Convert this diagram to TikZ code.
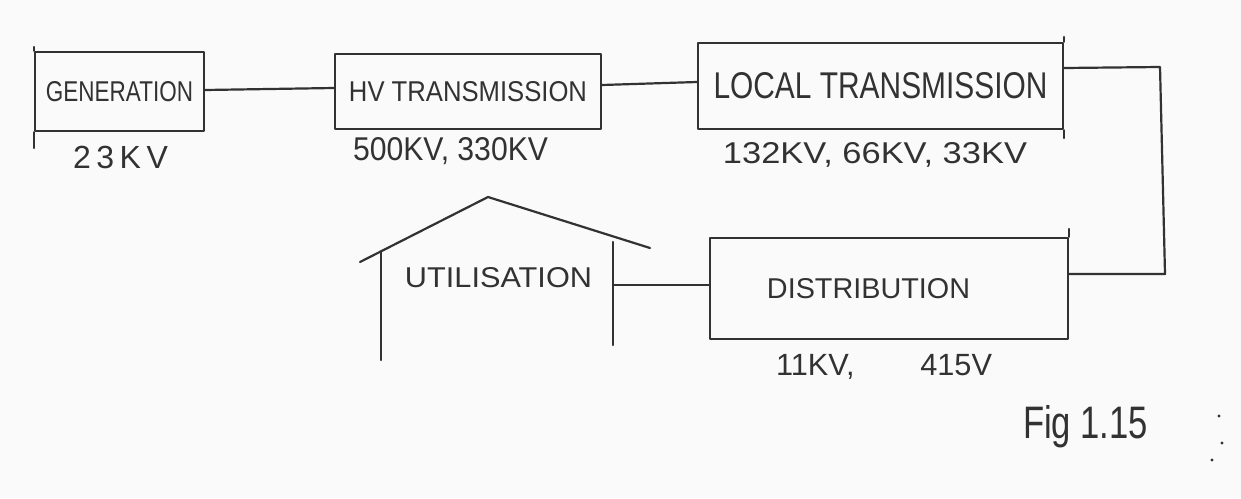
\documentclass[tikz,border=0pt]{standalone}
\usepackage{fontspec}
\setmainfont{Liberation Sans}
\usepackage{graphicx}
\definecolor{ink}{RGB}{50,50,50}
\definecolor{paper}{RGB}{250,250,250}
\newcommand{\fitto}[3]{\resizebox{#1pt}{#2pt}{#3}}
\tikzset{
  pen/.style={draw=ink, line width=2.2pt, line cap=round, line join=round},
  box/.style={pen, rectangle, inner sep=0pt, anchor=center, text=ink},
  lbl/.style={text=ink, inner sep=0pt, anchor=base},
}
\begin{document}
\begin{tikzpicture}[x=1pt,y=-1pt]
\fill[paper] (0,0) rectangle (1241,498);
\useasboundingbox (0,0) rectangle (1241,498);

% boxes
\node[box, minimum width=169pt, minimum height=79pt] (gen) at (119.5,91.5) {\fitto{147}{20}{GENERATION}};
\node[box, minimum width=266pt, minimum height=75pt] (hv) at (468,91.5) {\fitto{238}{20}{HV TRANSMISSION}};
\node[box, minimum width=365pt, minimum height=86pt] (loc) at (880.5,86) {\fitto{334}{26}{LOCAL TRANSMISSION}};
\node[box, minimum width=358pt, minimum height=101pt] (dist) at (889,288.5) {\fitto{203}{20}{DISTRIBUTION}\hspace*{41pt}};

% hand-drawn overshoots
\draw[pen] (gen.north west) -- ++(0,-4);
\draw[pen] (gen.south west) -- ++(0,16);
\draw[pen] (loc.north east) -- ++(0,-5);
\draw[pen] (loc.south east) -- ++(0,8);
\draw[pen] (dist.north east) -- ++(0,-8);

% voltage labels
\node[lbl] (v1) at (120.5,168) {\fontsize{32}{32}\selectfont\makebox[95pt][s]{2\hfill 3\hfill K\hfill V}};
\node[lbl] (v2) at (450.5,160) {\fitto{195}{23}{500KV, 330KV}};
\node[lbl] (v3) at (875,163) {\fitto{304}{21}{132KV, 66KV, 33KV}};
\node[lbl] (v4) at (884,375) {\fontsize{30.7}{31}\selectfont\makebox[216pt][s]{11KV,\hfill 415V}};

% connectors
\draw[pen] ([yshift=1.5pt]gen.east) -- ([yshift=3.5pt]hv.west);
\draw[pen] ([yshift=6.5pt]hv.east) -- ([yshift=4pt]loc.west);
\coordinate (c1) at (1160,67);
\coordinate (c2) at (1165,274);
\draw[pen] ([yshift=18pt]loc.east) -- (c1) -- (c2) -- (dist.east |- c2);

% utilisation house
\coordinate (r1) at (360,262);
\coordinate (r2) at (488,197);
\coordinate (r3) at (650,248);
\draw[pen] (r1) -- (r2) -- (r3);
\coordinate (lw1) at (381,252);
\coordinate (lw2) at (381,360);
\draw[pen] (lw1) -- (lw2);
\coordinate (rw1) at (613,242);
\coordinate (rw2) at (613,345);
\draw[pen] (rw1) -- (rw2);
\coordinate (hc) at (613,285);
\draw[pen] (hc) -- (dist.west |- hc);
\node[lbl] (util) at (498.5,287) {\fitto{187}{20}{UTILISATION}};

% caption
\node[lbl] (fig) at (1085.5,438) {\fitto{125}{33}{Fig 1.15}};
\fill[ink] (1219,416) circle (1.6pt);
\fill[ink] (1222,443) circle (1.6pt);
\fill[ink] (1212,460) circle (1.6pt);
\end{tikzpicture}
\end{document}
